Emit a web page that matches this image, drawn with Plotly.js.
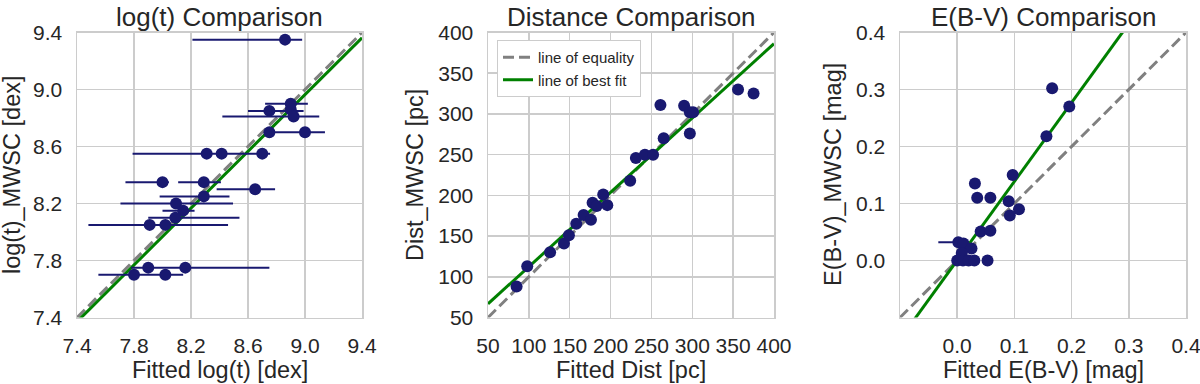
<!DOCTYPE html>
<html><head><meta charset="utf-8">
<script src="https://cdn.plot.ly/plotly-3.0.1.min.js"></script>
<style>html,body{margin:0;padding:0;background:#fff}#chart{width:1200px;height:384px}</style>
</head><body><div id="chart"></div>
<script>
// ---- Panel 1: log(t) ----
const ageFitted = [8.86, 8.90, 8.75, 8.90, 8.92, 8.75, 9.00, 8.31, 8.415, 8.70, 8.00, 8.29, 8.65, 8.29, 8.095, 8.145, 8.09, 7.91, 8.02, 7.90, 8.16, 7.80, 8.02];
const ageMWSC   = [9.35, 8.90, 8.85, 8.86, 8.81, 8.70, 8.70, 8.55, 8.55, 8.55, 8.35, 8.35, 8.30, 8.25, 8.20, 8.15, 8.10, 8.05, 8.05, 7.75, 7.75, 7.70, 7.70];
const ageErrMinus = [0.65, 0.18, 0.15, 0.03, 0.50, 0.00, 0.28, 0.00, 0.625, 0.00, 0.26, 0.18, 0.27, 0.31, 0.39, 0.145, 0.19, 0.43, 0.00, 0.00, 0.38, 0.25, 0.00];
const agePlus     = [0.12, 0.12, 0.24, 0.03, 0.18, 0.00, 0.14, 0.00, 0.34, 0.00, 0.045, 0.12, 0.14, 0.18, 0.40, 0.08, 0.45, 0.55, 0.00, 0.00, 0.59, 0.345, 0.00];
const ageFitSlope = 0.9965, ageFitIntercept = -0.004;

// ---- Panel 2: Distance ----
const distFitted = [85, 98, 126, 143, 149, 158, 167, 176, 178, 183, 191, 196, 224, 231, 242, 252, 261, 265, 290, 297, 297, 301, 356, 375];
const distMWSC   = [88, 113, 130, 141, 151, 165, 176, 170, 191, 187, 201, 188, 218, 246, 250, 250, 311, 270, 310, 276, 302, 302, 330, 325];
const distFitSlope = 0.913, distFitIntercept = 21.1;

// ---- Panel 3: E(B-V) ----
const ebvFitted = [0.166, 0.196, 0.156, 0.097, 0.031, 0.035, 0.058, 0.090, 0.108, 0.092, 0.041, 0.058, 0.002, 0.011, 0.025, 0.008, 0.000, 0.010, 0.020, 0.030, 0.053];
const ebvMWSC   = [0.302, 0.270, 0.218, 0.150, 0.135, 0.110, 0.110, 0.104, 0.090, 0.079, 0.051, 0.052, 0.032, 0.030, 0.021, 0.013, 0.000, 0.000, 0.000, 0.000, 0.000];
const ebvErrMinus = [0, 0, 0, 0, 0, 0, 0, 0, 0, 0, 0, 0, 0.035, 0, 0, 0, 0, 0, 0, 0, 0];
const ebvErrPlus  = [0, 0, 0, 0, 0, 0, 0, 0, 0, 0, 0, 0, 0.008, 0, 0, 0, 0, 0, 0, 0, 0];
const ebvFitSlope = 1.384, ebvFitIntercept = 0.0003;

// ---- Axis settings ----
const ageRange = [7.4, 9.4], ageTicks = [7.4, 7.8, 8.2, 8.6, 9.0, 9.4];
const distRange = [50, 400], distTicks = [50, 100, 150, 200, 250, 300, 350, 400];
const ebvRange = [-0.1, 0.4], ebvTicks = [0.0, 0.1, 0.2, 0.3, 0.4];

const titles = ["log(t) Comparison", "Distance Comparison", "E(B-V) Comparison"];
const xTitles = ["Fitted log(t) [dex]", "Fitted Dist [pc]", "Fitted E(B-V) [mag]"];
const yTitles = ["log(t)_MWSC [dex]", "Dist_MWSC [pc]", "E(B-V)_MWSC [mag]"];
const legendNames = ["line of equality", "line of best fit"];

const NAVY = '#191970', GREEN = '#008000', GREY = '#808080', GRIDC = '#cccccc', TXT = '#262626';
const FONT = 'Liberation Sans, Arial, sans-serif';

function lineTraces(range, slope, intercept, ax, showleg) {
  return [
    {x: range, y: range, mode: 'lines', xaxis: 'x' + ax, yaxis: 'y' + ax,
     line: {color: GREY, width: 3, dash: '11px,5px'}, name: legendNames[0], showlegend: showleg, hoverinfo: 'skip'},
    {x: range, y: range.map(v => slope * v + intercept), mode: 'lines', xaxis: 'x' + ax, yaxis: 'y' + ax,
     line: {color: GREEN, width: 3}, name: legendNames[1], showlegend: showleg, hoverinfo: 'skip'}
  ];
}
function pts(x, y, em, ep, ax) {
  return {x: x, y: y, mode: 'markers', xaxis: 'x' + ax, yaxis: 'y' + ax, showlegend: false,
    marker: {color: NAVY, size: 12},
    error_x: em ? {type: 'data', symmetric: false, array: ep, arrayminus: em, color: NAVY, thickness: 2, width: 0} : undefined};
}

const data = [
  ...lineTraces(ageRange, ageFitSlope, ageFitIntercept, '', false),
  ...lineTraces(distRange, distFitSlope, distFitIntercept, '2', true),
  ...lineTraces(ebvRange, ebvFitSlope, ebvFitIntercept, '3', false),
  pts(ageFitted, ageMWSC, ageErrMinus, agePlus, ''),
  pts(distFitted, distMWSC, null, null, '2'),
  pts(ebvFitted, ebvMWSC, ebvErrMinus, ebvErrPlus, '3'),
];

const yDom = [1 - 317.5 / 384, 1 - 32.5 / 384];
const xDoms = [[77 / 1200, 362 / 1200], [488 / 1200, 774 / 1200], [900 / 1200, 1186 / 1200]];
function axis(dom, range, ticks, anchor) {
  return {domain: dom, range: range, tickvals: ticks, tickformat: ticks === distTicks ? 'd' : '.1f',
    showgrid: true, gridcolor: GRIDC, gridwidth: 1.5, zeroline: false,
    showline: true, mirror: true, linecolor: GRIDC, linewidth: 1.5, ticks: '',
    ticklabelstandoff: 9, ticklabeloverflow: 'allow',
    tickfont: {family: FONT, size: 21, color: TXT}, anchor: anchor, fixedrange: true};
}
const layout = {
  width: 1200, height: 384, margin: {l: 0, r: 0, t: 0, b: 0, pad: 0},
  paper_bgcolor: '#fff', plot_bgcolor: '#fff', font: {family: FONT, color: TXT},
  xaxis: axis(xDoms[0], ageRange, ageTicks, 'y'),
  yaxis: axis(yDom, ageRange, ageTicks, 'x'),
  xaxis2: axis(xDoms[1], distRange, distTicks, 'y2'),
  yaxis2: axis(yDom, distRange, distTicks, 'x2'),
  xaxis3: axis(xDoms[2], ebvRange, ebvTicks, 'y3'),
  yaxis3: axis(yDom, ebvRange, ebvTicks, 'x3'),
  legend: {x: 497 / 1200, y: 1 - 40 / 384, xanchor: 'left', yanchor: 'top', xref: 'paper', yref: 'paper',
    bgcolor: '#fff', bordercolor: GRIDC, borderwidth: 1, font: {family: FONT, size: 15, color: TXT}},
  annotations: []
};
const yTitleX = [12, 415, 833];
for (let i = 0; i < 3; i++) {
  const cx = (xDoms[i][0] + xDoms[i][1]) / 2;
  layout.annotations.push({text: titles[i], xref: 'paper', yref: 'paper', x: cx, y: 1,
    xanchor: 'center', yanchor: 'top', showarrow: false, font: {family: FONT, size: 26, color: TXT}});
  layout.annotations.push({text: xTitles[i], xref: 'paper', yref: 'paper', x: cx, y: 1 - 370 / 384,
    xanchor: 'center', yanchor: 'middle', showarrow: false, font: {family: FONT, size: 23.5, color: TXT}});
  layout.annotations.push({text: yTitles[i], xref: 'paper', yref: 'paper', x: yTitleX[i] / 1200, y: (yDom[0] + yDom[1]) / 2,
    xanchor: 'center', yanchor: 'middle', textangle: -90, showarrow: false, font: {family: FONT, size: 23.5, color: TXT}});
}
Plotly.newPlot('chart', data, layout, {displayModeBar: false, staticPlot: true});
</script>
</body></html>
